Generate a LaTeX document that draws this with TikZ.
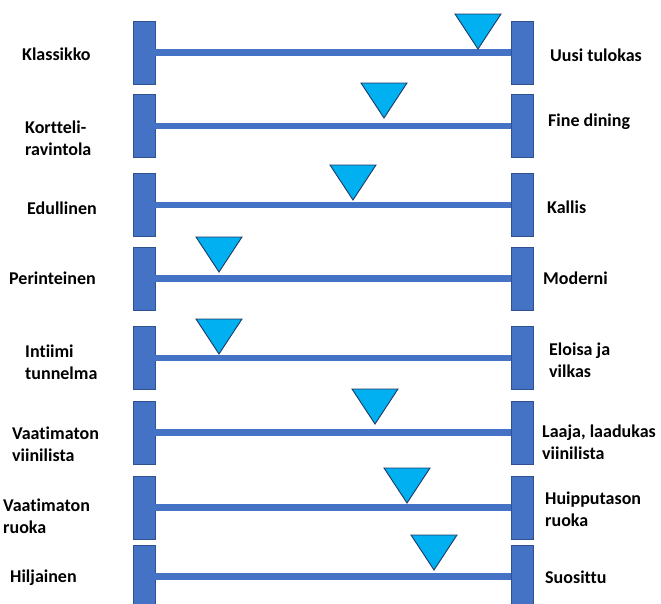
\documentclass[tikz,border=0pt]{standalone}
\usepackage{fontspec}
\setmainfont{Carlito}[Ligatures=NoCommon]
\definecolor{barblue}{HTML}{4472C4}
\definecolor{barline}{HTML}{2F528F}
\definecolor{markblue}{HTML}{00B0F0}
\definecolor{markline}{HTML}{1F3864}
\newcommand\mymarker[2]{\draw[marker] (#1,#2) -- ++(-23,-35) -- ++(46,0) -- cycle;}
\begin{document}
\begin{tikzpicture}[x=1pt,y=-1pt,
  bar/.style={draw=barline, fill=barblue, line width=0.9pt, minimum width=22pt, minimum height=63pt, inner sep=0pt, outer sep=0pt},
  scaleline/.style={draw=barblue, line width=6.5pt},
  marker/.style={draw=markline, fill=markblue, line width=0.9pt, line join=miter},
  lab/.style={anchor=west, align=left, inner sep=0pt, text=black, font=\bfseries\fontsize{18}{22}\selectfont}]
\clip (0,0) rectangle (661,603);
% bars
\foreach \i/\y in {1/52.5,2/126,3/205,4/278.5,5/358,6/432.5,7/507.5,8/576.5}{
  \node[bar] (l\i) at (144,\y) {};
  \node[bar] (r\i) at (522,\y) {};
  \draw[scaleline] (l\i.east) -- (r\i.west);
}
% markers (apex x, apex y)
\mymarker{478}{49}
\mymarker{384}{118}
\mymarker{353}{200}
\mymarker{219}{272}
\mymarker{219}{354}
\mymarker{375}{424}
\mymarker{407}{503}
\mymarker{434}{570}
% left labels
\node[lab] (a1) at (22,54) {Klassikko};
\node[lab] (a2) at (25,138.5) {Kortteli-\\ravintola};
\node[lab] (a3) at (27,208) {Edullinen};
\node[lab] (a4) at (9,278) {Perinteinen};
\node[lab] (a5) at (25,362.5) {Intiimi\\tunnelma};
\node[lab] (a6) at (12,444) {Vaatimaton\\viinilista};
\node[lab] (a7) at (3,516) {Vaatimaton\\ruoka};
\node[lab] (a8) at (10,578) {Hiljainen};
% right labels
\node[lab] (b1) at (550,55) {Uusi tulokas};
\node[lab] (b2) at (548,122) {Fine dining};
\node[lab] (b3) at (547,207) {Kallis};
\node[lab] (b4) at (543,278) {Moderni};
\node[lab] (b5) at (549,360.5) {Eloisa ja\\vilkas};
\node[lab] (b6) at (542,442) {Laaja, laadukas\\viinilista};
\node[lab] (b7) at (545,509) {Huipputason\\ruoka};
\node[lab] (b8) at (545,577) {Suosittu};
\end{tikzpicture}
\end{document}
